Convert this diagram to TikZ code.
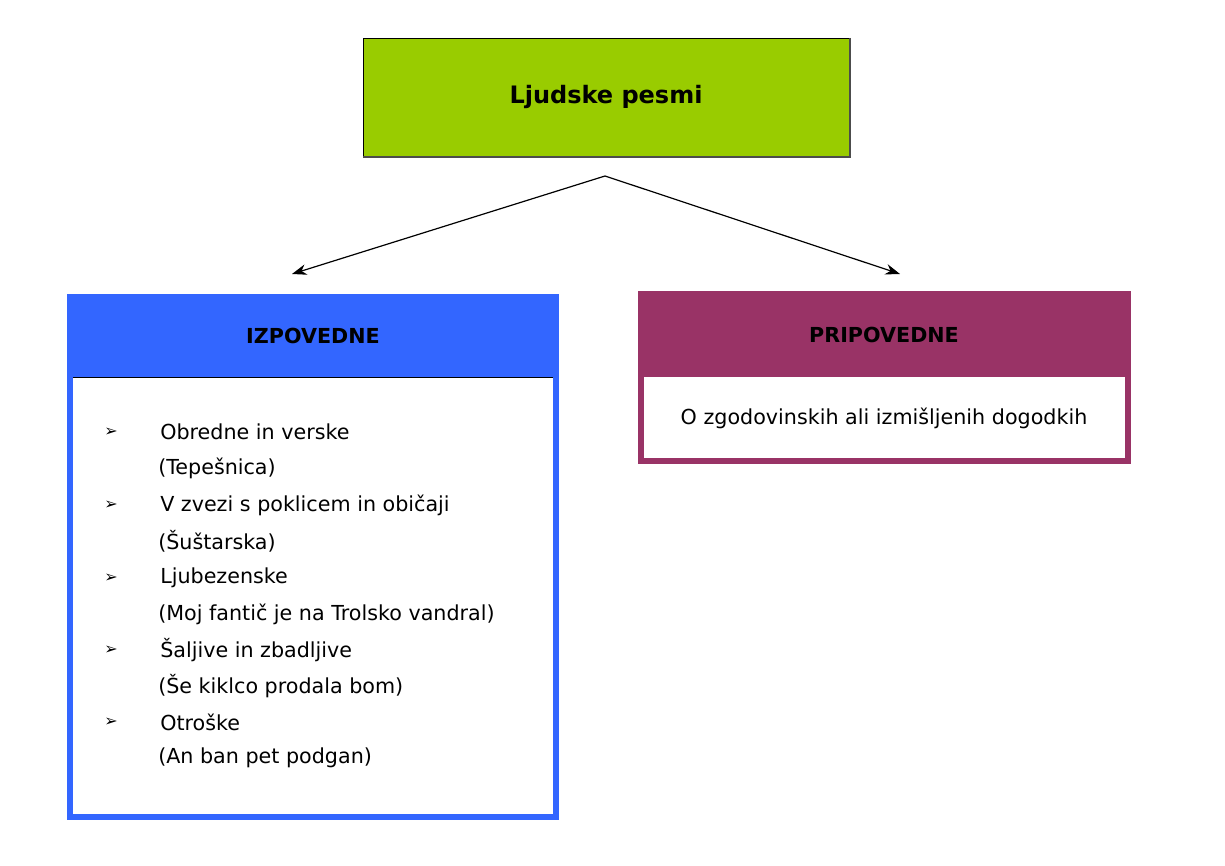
\documentclass[tikz,border=0pt]{standalone}
\usepackage{fontspec}
\setmainfont{DejaVu Sans}
\usetikzlibrary{arrows.meta}
\definecolor{grn}{HTML}{99CC00}
\definecolor{blu}{HTML}{3366FF}
\definecolor{pur}{HTML}{993366}
\begin{document}
\begin{tikzpicture}[x=0.75pt,y=-0.75pt,
  txt/.style={font=\fontsize{15.5}{18}\selectfont,inner sep=0pt},
  ttl/.style={font=\fontsize{15.5}{18}\selectfont\bfseries,inner sep=0pt},
  conn/.style={-{Stealth[length=11pt,width=8pt]},line width=0.9pt}]
\useasboundingbox (0,0) rectangle (1225,866);
\fill[white] (0,0) rectangle (1225,866);
% top
\draw[fill=grn,line width=0.6pt] (363,38) rectangle (850,157);
\draw[line width=1.2pt,black!70] (850,38) -- (850,157) -- (363,157);
\node[ttl,font=\fontsize{18}{20}\selectfont\bfseries] (top) at (606,97) {Ljudske pesmi};
\coordinate (src) at (605,176);
\coordinate (lt) at (292,274);
\coordinate (rt) at (900,274);
\draw[conn] (src) -- (lt);
\draw[conn] (src) -- (rt);
% left box
\fill[blu] (67,294) rectangle (559,820);
\fill[white] (73,377) rectangle (553,814);
\draw[black,line width=0.6pt] (73,377) -- (553,377);
\node[ttl] (izp) at (313,336) {IZPOVEDNE};
\foreach \y/\a/\b in {432/Obredne in verske/(Tepešnica),
  505/V zvezi s poklicem in običaji/(Šuštarska),
  578/Ljubezenske/(Moj fantič je na Trolsko vandral),
  650/Šaljive in zbadljive/(Še kiklco prodala bom),
  722/Otroške/(An ban pet podgan)}{
  \node[txt,anchor=west] at (104,\y) {\fontsize{12}{14}\selectfont ➢};
  \node[txt,anchor=west] at (160,\y) {\a};
  \node[txt,anchor=west] at (158,\y+36) {\b};
}
% right box
\fill[pur] (638,291) rectangle (1131,464);
\fill[white] (644,377) rectangle (1125,458);
\node[ttl] (pri) at (884,335) {PRIPOVEDNE};
\node[txt] (pt) at (884,418) {O zgodovinskih ali izmišljenih dogodkih};
\end{tikzpicture}
\end{document}
